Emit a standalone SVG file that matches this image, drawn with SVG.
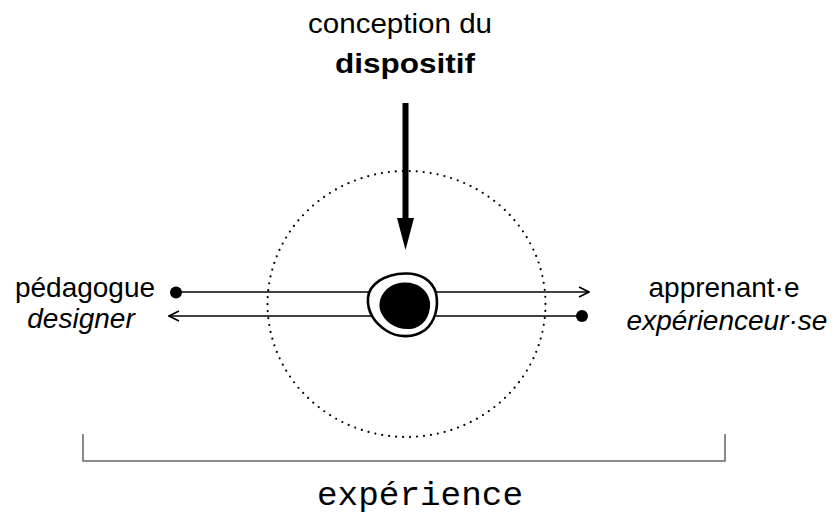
<svg xmlns="http://www.w3.org/2000/svg" width="835" height="515" viewBox="0 0 835 515">
<defs>
<style>
.lbl{font-family:"Liberation Sans",Arial,sans-serif;font-size:28px;fill:#000}
.it{font-style:italic}
.conn{stroke:#000;stroke-width:1.6;fill:none}
</style>
<marker id="open" viewBox="0 0 12 12" refX="11" refY="6" markerWidth="12" markerHeight="12" markerUnits="userSpaceOnUse" orient="auto">
<path d="M1,1 L11,6 L1,11" fill="none" stroke="#000" stroke-width="1.6"/>
</marker>
</defs>
<rect width="835" height="515" fill="#fff"/>
<g id="scope">
<ellipse cx="406.5" cy="304" rx="139" ry="133" fill="none" stroke="#000" stroke-width="2.2" stroke-linecap="round" stroke-dasharray="0 7"/>
</g>
<g id="connectors">
<line class="conn" x1="176" y1="292" x2="589" y2="292" marker-end="url(#open)"/>
<line class="conn" x1="582" y1="316" x2="169" y2="316" marker-end="url(#open)"/>
<rect x="402.5" y="103" width="6" height="117" fill="#000"/>
<polygon points="397,218 414,218 405.5,250" fill="#000"/>
</g>
<g id="left-node">
<circle cx="176" cy="292.5" r="6" fill="#000"/>
<text class="lbl" x="85" y="297" text-anchor="middle">pédagogue</text>
<text class="lbl it" x="81" y="328" text-anchor="middle">designer</text>
</g>
<g id="right-node">
<circle cx="582" cy="316" r="6" fill="#000"/>
<text class="lbl" x="724" y="297" text-anchor="middle">apprenant·e</text>
<text class="lbl it" x="727" y="330" text-anchor="middle">expérienceur·se</text>
</g>
<g id="device">
<path d="M405,273.5 C420,273 432,280 436,293 C439,307 435,322 425,330 C414,338 398,338 387,331 C374,323 367,311 368,298 C369,284 385,274 405,273.5 Z" fill="#fff" stroke="#000" stroke-width="2.6"/>
<path d="M404,282.5 C418,282 428,290 430,302 C431,316 423,328 410,329 C396,330 384,322 380,310 C377,296 388,283 404,282.5 Z" fill="#000"/>
</g>
<g id="design">
<text class="lbl" x="400" y="33" text-anchor="middle" font-size="30" textLength="184" lengthAdjust="spacingAndGlyphs">conception du</text>
<text class="lbl" x="405" y="73" text-anchor="middle" font-size="31" font-weight="bold" textLength="140" lengthAdjust="spacingAndGlyphs">dispositif</text>
</g>
<g id="experience">
<path d="M83,434 V461 H725 V434" fill="none" stroke="#666" stroke-width="1.5"/>
<text x="420" y="505" text-anchor="middle" font-family="'Liberation Mono','DejaVu Sans Mono',monospace" font-size="33" textLength="206" lengthAdjust="spacingAndGlyphs">expérience</text>
</g>
</svg>
